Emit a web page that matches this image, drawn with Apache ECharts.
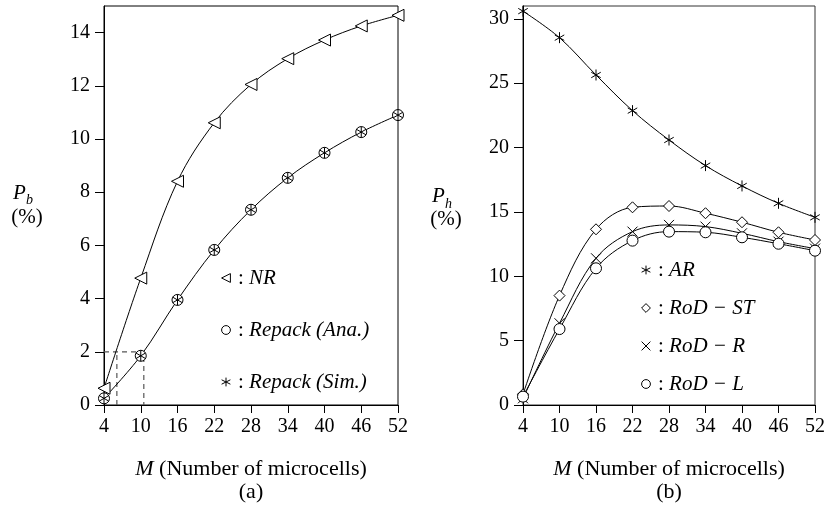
<!DOCTYPE html>
<html>
<head>
<meta charset="utf-8">
<script src="https://cdn.jsdelivr.net/npm/echarts@6/dist/echarts.min.js"></script>
<style>html,body{margin:0;background:#fff}#main{width:828px;height:510px}</style>
</head>
<body>
<div id="main"></div>
<script>
var mValues = [4, 10, 16, 22, 28, 34, 40, 46, 52];
var xTicks = [4, 10, 16, 22, 28, 34, 40, 46, 52];
var yTicksA = [0, 2, 4, 6, 8, 10, 12, 14];
var yTicksB = [0, 5, 10, 15, 20, 25, 30];

// (a) blocking probability P_b (%)
var nrValues = [0.63, 4.77, 8.41, 10.61, 12.05, 13.02, 13.72, 14.25, 14.65];
var repackAna = [0.25, 1.85, 3.95, 5.83, 7.34, 8.54, 9.48, 10.26, 10.9];
var repackSim = [0.25, 1.85, 3.95, 5.83, 7.34, 8.54, 9.48, 10.26, 10.9];
// dashed guide lines at P_b = 2%
var dashH = [[4, 2], [10.5, 2], [10.5, 0]];
var dashV = [[6.1, 0], [6.1, 2]];

// (b) handoff probability P_h (%)
var arValues = [30.6, 28.54, 25.64, 22.87, 20.59, 18.6, 17.02, 15.67, 14.58];
var rodST = [0.83, 8.5, 13.65, 15.36, 15.46, 14.9, 14.2, 13.42, 12.82];
var rodR = [0.52, 6.35, 11.4, 13.47, 13.99, 13.86, 13.34, 12.69, 12.15];
var rodL = [0.65, 5.9, 10.62, 12.77, 13.47, 13.42, 13.03, 12.53, 11.99];

var FONT = 'Liberation Serif';
var starPath = 'path://M0,-10L0,10M-8.66,-5L8.66,5M-8.66,5L8.66,-5';
var crossPath = 'path://M-10,-10L10,10M-10,10L10,-10';

function pairs(ys) {
    return mValues.map(function (m, i) { return [m, ys[i]]; });
}

function mkX(idx) {
    return {
        type: 'value', gridIndex: idx, min: 4, max: 52,
        axisLine: { lineStyle: { color: '#000', width: 1 } },
        axisTick: { length: 8, customValues: xTicks, lineStyle: { color: '#000' } },
        axisLabel: { customValues: xTicks, color: '#000', fontFamily: FONT, fontSize: 20, margin: 12 },
        splitLine: { show: false },
        name: '{i|M} (Number of microcells)\n' + (idx === 0 ? '(a)' : '(b)'),
        nameLocation: 'middle',
        nameGap: 53,
        nameTextStyle: {
            color: '#000', fontFamily: FONT, fontSize: 22, lineHeight: 23,
            rich: { i: { fontStyle: 'italic', fontFamily: FONT, fontSize: 22, lineHeight: 23 } }
        }
    };
}

function mkY(idx, max, ticks) {
    return {
        type: 'value', gridIndex: idx, min: 0, max: max,
        axisLine: { show: true, lineStyle: { color: '#000', width: 1 } },
        axisTick: { show: true, length: 9, customValues: ticks, lineStyle: { color: '#000' } },
        axisLabel: { customValues: ticks, color: '#000', fontFamily: FONT, fontSize: 20, margin: 14 },
        splitLine: { show: false }
    };
}

function curve(name, ys, xi, symbol, size, extra) {
    var s = {
        name: name, type: 'line', xAxisIndex: xi, yAxisIndex: xi,
        data: pairs(ys), smooth: 0.35,
        symbol: symbol, symbolSize: size, symbolKeepAspect: true,
        lineStyle: { color: '#000', width: 1 },
        itemStyle: { color: '#fff', borderColor: '#000', borderWidth: 1 },
        z: 3
    };
    for (var k in extra) s[k] = extra[k];
    return s;
}

function legendFmt(name) {
    return ': {i|' + name + '}';
}

function mkLegend(names, left, top, gap) {
    return {
        data: names, orient: 'vertical', left: left, top: top,
        itemWidth: 14, itemHeight: 11, itemGap: gap,
        selectedMode: false,
        lineStyle: { opacity: 0 },
        itemStyle: { borderWidth: 1 },
        formatter: legendFmt,
        textStyle: {
            color: '#000', fontFamily: FONT, fontSize: 21, lineHeight: 22,
            rich: { i: { fontStyle: 'italic', fontFamily: FONT, fontSize: 21, lineHeight: 22, color: '#000' } }
        }
    };
}

var dom = document.getElementById('main');
var myChart = echarts.init(dom);

var option = {
    backgroundColor: '#fff',
    animation: false,
    grid: [
        { left: 104, right: 430, top: 6, bottom: 105, show: true, borderColor: '#000', borderWidth: 1 },
        { left: 523, right: 10, top: 6, bottom: 105, show: true, borderColor: '#333', borderWidth: 1 }
    ],
    xAxis: [mkX(0), mkX(1)],
    yAxis: [mkY(0, 15, yTicksA), mkY(1, 31, yTicksB)],
    legend: [
        mkLegend(['NR', 'Repack (Ana.)', 'Repack (Sim.)'], 213, 262, 30),
        mkLegend(['AR', 'RoD − ST', 'RoD − R', 'RoD − L'], 633, 254, 16)
    ],
    graphic: [
        { type: 'text', x: 13, y: 193, style: { text: 'P', font: 'italic 21px ' + FONT, fill: '#000', verticalAlign: 'middle' } },
        { type: 'text', x: 26, y: 200, style: { text: 'b', font: 'italic 14px ' + FONT, fill: '#000', verticalAlign: 'middle' } },
        { type: 'text', x: 27, y: 217, style: { text: '(%)', font: '21px ' + FONT, fill: '#000', align: 'center', verticalAlign: 'middle' } },
        { type: 'text', x: 432, y: 196, style: { text: 'P', font: 'italic 21px ' + FONT, fill: '#000', verticalAlign: 'middle' } },
        { type: 'text', x: 445, y: 204, style: { text: 'h', font: 'italic 14px ' + FONT, fill: '#000', verticalAlign: 'middle' } },
        { type: 'text', x: 446, y: 219, style: { text: '(%)', font: '21px ' + FONT, fill: '#000', align: 'center', verticalAlign: 'middle' } }
    ],
    series: [
        {
            type: 'line', xAxisIndex: 0, yAxisIndex: 0, data: dashH, symbol: 'none',
            lineStyle: { color: '#555', width: 1.2, type: [5, 4] }, z: 1, silent: true
        },
        {
            type: 'line', xAxisIndex: 0, yAxisIndex: 0, data: dashV, symbol: 'none',
            lineStyle: { color: '#555', width: 1.2, type: [5, 4] }, z: 1, silent: true
        },
        curve('NR', nrValues, 0, 'triangle', 12, { symbolRotate: 90 }),
        curve('Repack (Ana.)', repackAna, 0, 'circle', 11, {}),
        curve('Repack (Sim.)', repackSim, 0, starPath, 11, {
            lineStyle: { opacity: 0 },
            itemStyle: { color: '#000', borderColor: '#000', borderWidth: 1 },
            z: 4
        }),
        curve('AR', arValues, 1, starPath, 11, {
            itemStyle: { color: '#000', borderColor: '#000', borderWidth: 1 }
        }),
        curve('RoD − ST', rodST, 1, 'diamond', 11, {}),
        curve('RoD − R', rodR, 1, crossPath, 10, {
            itemStyle: { color: '#000', borderColor: '#000', borderWidth: 1 }
        }),
        curve('RoD − L', rodL, 1, 'circle', 11, {})
    ]
};

if (option && typeof option === 'object') {
    myChart.setOption(option, true);
}
</script>
</body>
</html>
